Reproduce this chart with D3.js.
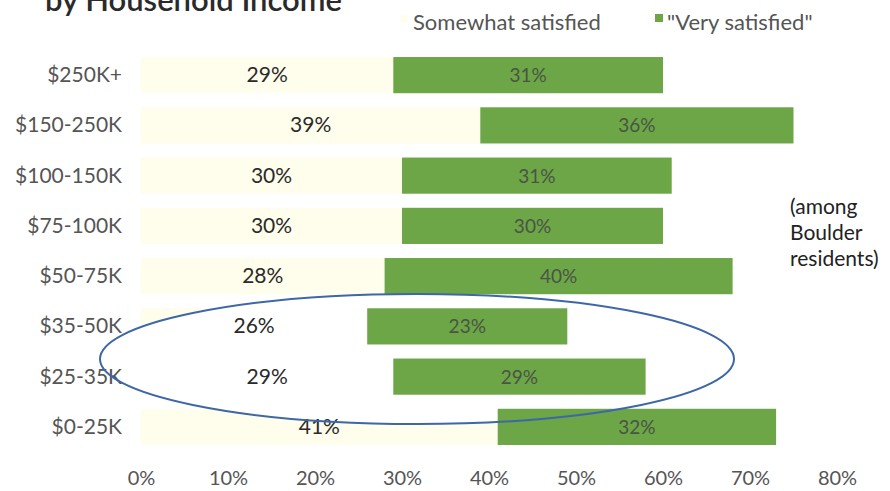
<!DOCTYPE html>
<html>
<head>
<meta charset="utf-8">
<script src="https://cdn.jsdelivr.net/npm/d3@7"></script>
<style>
  html, body { margin: 0; padding: 0; background: #ffffff; }
  svg { display: block; }
  text { font-family: Lato, "Open Sans", sans-serif; }
</style>
</head>
<body>
<svg id="chart" width="890" height="491"></svg>
<script>
const categories = ["$250K+", "$150-250K", "$100-150K", "$75-100K", "$50-75K", "$35-50K", "$25-35K", "$0-25K"];
const somewhat = [29, 39, 30, 30, 28, 26, 29, 41];
const very = [31, 36, 31, 30, 40, 23, 29, 32];
const tickValues = [0, 10, 20, 30, 40, 50, 60, 70, 80];
const seriesNames = ["Somewhat satisfied", "\"Very satisfied\""];
const titleText = "by Household Income";
const noteLines = ["(among", "Boulder", "residents)"];

const svg = d3.select("#chart");
const x = d3.scaleLinear().domain([0, 80]).range([141, 837]);
const y = d3.scaleBand().domain(categories).range([50, 452]).paddingInner(0.28).paddingOuter(0.14);

const yellow = "#fffdeb";
const green = "#6ca647";

const rows = categories.map((c, i) => ({ c, s: somewhat[i], v: very[i] }));

// title (cut off at top, as in the reference)
svg.append("text").attr("x", 45).attr("y", 11)
  .attr("font-size", 31).attr("font-weight", 600).attr("fill", "#2a2a2a")
  .text(titleText);

// legend
svg.append("rect").attr("x", 400).attr("y", 15).attr("width", 8).attr("height", 8).attr("fill", yellow);
svg.append("text").attr("x", 413).attr("y", 30).attr("font-size", 22).attr("fill", "#555").text(seriesNames[0]);
svg.append("rect").attr("x", 655).attr("y", 14).attr("width", 8).attr("height", 8).attr("fill", green);
svg.append("text").attr("x", 667).attr("y", 30).attr("font-size", 22).attr("fill", "#555").text(seriesNames[1]);

// yellow bars
svg.append("g").selectAll("rect").data(rows).join("rect")
  .attr("x", x(0)).attr("y", d => y(d.c))
  .attr("width", d => x(d.s) - x(0)).attr("height", y.bandwidth())
  .attr("fill", yellow);

// ellipse fill
const ell = { cx: 417, cy: 359, rx: 317, ry: 65 };
svg.append("ellipse").attr("cx", ell.cx).attr("cy", ell.cy).attr("rx", ell.rx).attr("ry", ell.ry)
  .attr("fill", "#ffffff");

// green bars
svg.append("g").selectAll("rect").data(rows).join("rect")
  .attr("x", d => x(d.s)).attr("y", d => y(d.c))
  .attr("width", d => x(d.s + d.v) - x(d.s)).attr("height", y.bandwidth())
  .attr("fill", green);

// category labels
svg.append("g").selectAll("text").data(rows).join("text")
  .attr("x", 122).attr("y", d => y(d.c) + y.bandwidth() / 2 + 7)
  .attr("text-anchor", "end").attr("font-size", 21).attr("fill", "#555")
  .text(d => d.c);

// somewhat labels
svg.append("g").selectAll("text").data(rows).join("text")
  .attr("x", d => x(d.s / 2)).attr("y", d => y(d.c) + y.bandwidth() / 2 + 7)
  .attr("text-anchor", "middle").attr("font-size", 21).attr("fill", "#2a2a2a")
  .text(d => d.s + "%");

// very labels
svg.append("g").selectAll("text").data(rows).join("text")
  .attr("x", d => x(d.s + d.v / 2)).attr("y", d => y(d.c) + y.bandwidth() / 2 + 7)
  .attr("text-anchor", "middle").attr("font-size", 19).attr("fill", "#4a5444")
  .text(d => d.v + "%");

// x axis
const axis = d3.axisBottom(x).tickValues(tickValues).tickFormat(d => d + "%").tickSize(0).tickPadding(0);
const ax = svg.append("g").attr("transform", "translate(0,471)").call(axis);
ax.select(".domain").remove();
ax.selectAll("text").attr("font-size", 20).attr("fill", "#555").attr("font-family", "Lato, sans-serif");

// note
svg.append("g").selectAll("text").data(noteLines).join("text")
  .attr("x", 790).attr("y", (d, i) => 214 + i * 26)
  .attr("font-size", 21).attr("fill", "#222")
  .text(d => d);

// ellipse stroke
svg.append("ellipse").attr("cx", ell.cx).attr("cy", ell.cy).attr("rx", ell.rx).attr("ry", ell.ry)
  .attr("fill", "none").attr("stroke", "#3d67a6").attr("stroke-width", 2);
</script>
</body>
</html>
